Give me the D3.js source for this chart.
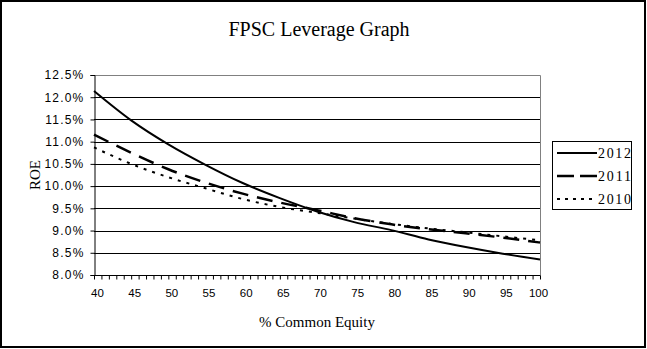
<!DOCTYPE html>
<html>
<head>
<meta charset="utf-8">
<script src="https://cdn.jsdelivr.net/npm/d3@7/dist/d3.min.js"></script>
<style>
  html, body { margin: 0; padding: 0; background: #fff; }
  svg { display: block; }
</style>
</head>
<body>
<svg id="chart" width="647" height="349"></svg>
<script>
// % common equity (x) and ROE (%) for each year
const equity = [40, 45, 50, 55, 60, 65, 70, 75, 80, 85, 90, 95, 100];
const roe2012 = [12.14, 11.48, 10.94, 10.48, 10.07, 9.73, 9.43, 9.19, 9.01, 8.80, 8.63, 8.48, 8.35];
const roe2011 = [11.16, 10.75, 10.38, 10.08, 9.83, 9.63, 9.46, 9.28, 9.14, 9.03, 8.94, 8.84, 8.73];
const roe2010 = [10.87, 10.50, 10.20, 9.95, 9.71, 9.53, 9.40, 9.27, 9.15, 9.05, 8.96, 8.87, 8.78];
const yTicks = [8.0, 8.5, 9.0, 9.5, 10.0, 10.5, 11.0, 11.5, 12.0, 12.5];
const xLabels = [40, 45, 50, 55, 60, 65, 70, 75, 80, 85, 90, 95, 100];
const seriesNames = ["2012", "2011", "2010"];

const svg = d3.select("#chart");
const W = 647, H = 349;
const plot = { left: 94, right: 540, top: 75, bottom: 275 };

// outer chart frame
svg.append("rect")
  .attr("x", 1).attr("y", 1).attr("width", W - 3).attr("height", H - 3)
  .attr("fill", "#fff").attr("stroke", "#000").attr("stroke-width", 2);

const x = d3.scaleLinear().domain([40, 100]).range([plot.left, plot.right]);
const y = d3.scaleLinear().domain([8.0, 12.5]).range([plot.bottom, plot.top]);

// title
svg.append("text")
  .attr("x", 319).attr("y", 36)
  .attr("text-anchor", "middle")
  .style("font-family", "'Liberation Serif', 'Times New Roman', serif")
  .style("font-size", "20px")
  .text("FPSC Leverage Graph");

// plot area border (grey on top and right)
svg.append("path")
  .attr("d", `M${plot.left},${plot.top + 0.5}H${plot.right + 0.5}V${plot.bottom}`)
  .attr("fill", "none").attr("stroke", "#808080").attr("stroke-width", 1);

// horizontal gridlines
svg.append("g")
  .selectAll("line")
  .data(yTicks.filter(v => v > 8.0 && v < 12.5))
  .join("line")
  .attr("x1", plot.left).attr("x2", plot.right)
  .attr("y1", d => Math.round(y(d)) + 0.5).attr("y2", d => Math.round(y(d)) + 0.5)
  .attr("stroke", "#000").attr("stroke-width", 1);

// y axis
const yAxis = d3.axisLeft(y)
  .tickValues(yTicks)
  .tickSize(4)
  .tickPadding(6)
  .tickFormat(d => d.toFixed(1) + "%");
const gy = svg.append("g")
  .attr("transform", `translate(${plot.left + 0.5},0)`)
  .call(yAxis);
gy.select(".domain").attr("stroke", "#000");
gy.selectAll(".tick line").attr("stroke", "#000");
gy.selectAll(".tick text")
  .attr("fill", "#000")
  .style("font-family", "'Liberation Sans', Arial, sans-serif")
  .style("font-size", "12px")
  .style("letter-spacing", "1.2px");

// x axis: a minor tick at every unit, labels every 5
const xAxis = d3.axisBottom(x)
  .tickValues(d3.range(40, 101, 1))
  .tickSize(4)
  .tickPadding(9)
  .tickFormat(d => xLabels.includes(d) ? d : "");
const gx = svg.append("g")
  .attr("transform", `translate(0,${plot.bottom + 0.5})`)
  .call(xAxis);
gx.select(".domain").attr("stroke", "#000").attr("d", `M${plot.left},0.5V0H${plot.right + 0.5}`);
gx.selectAll(".tick line").attr("stroke", "#000");
gx.selectAll(".tick text")
  .attr("fill", "#000")
  .attr("dx", d => d === 100 ? -2 : 3)
  .style("font-family", "'Liberation Sans', Arial, sans-serif")
  .style("font-size", "11.5px");

// axis titles
svg.append("text")
  .attr("transform", `translate(40,${(plot.top + plot.bottom) / 2}) rotate(-90)`)
  .attr("text-anchor", "middle")
  .style("font-family", "'Liberation Serif', 'Times New Roman', serif")
  .style("font-size", "15px")
  .text("ROE");

svg.append("text")
  .attr("x", (plot.left + plot.right) / 2).attr("y", 327)
  .attr("text-anchor", "middle")
  .style("font-family", "'Liberation Serif', 'Times New Roman', serif")
  .style("font-size", "15px")
  .text("% Common Equity");

// series
const styles = [
  { dash: null, width: 2 },
  { dash: "16,9", width: 2.5 },
  { dash: "3,6", width: 2 }
];
const seriesData = [roe2012, roe2011, roe2010];

const line = d3.line()
  .x(d => x(d[0]))
  .y(d => y(d[1]))
  .curve(d3.curveMonotoneX);

seriesData.forEach((vals, i) => {
  svg.append("path")
    .datum(equity.map((e, j) => [e, vals[j]]))
    .attr("fill", "none")
    .attr("stroke", "#000")
    .attr("stroke-width", styles[i].width)
    .attr("stroke-dasharray", styles[i].dash)
    .attr("d", line);
});

// legend
const lg = svg.append("g");
lg.append("rect")
  .attr("x", 552.5).attr("y", 141.5).attr("width", 79).attr("height", 68)
  .attr("fill", "#fff").attr("stroke", "#000").attr("stroke-width", 1);
const rowY = [153, 176, 199];
seriesNames.forEach((name, i) => {
  lg.append("line")
    .attr("x1", 557).attr("x2", 597)
    .attr("y1", rowY[i]).attr("y2", rowY[i])
    .attr("stroke", "#000")
    .attr("stroke-width", styles[i].width)
    .attr("stroke-dasharray", i === 1 ? "17,6" : i === 2 ? "3,5" : null);
  lg.append("text")
    .attr("x", 598).attr("y", rowY[i] + 5)
    .attr("textLength", 33)
    .style("font-family", "'Liberation Serif', 'Times New Roman', serif")
    .style("font-size", "14px")
    .text(name);
});
</script>
</body>
</html>
